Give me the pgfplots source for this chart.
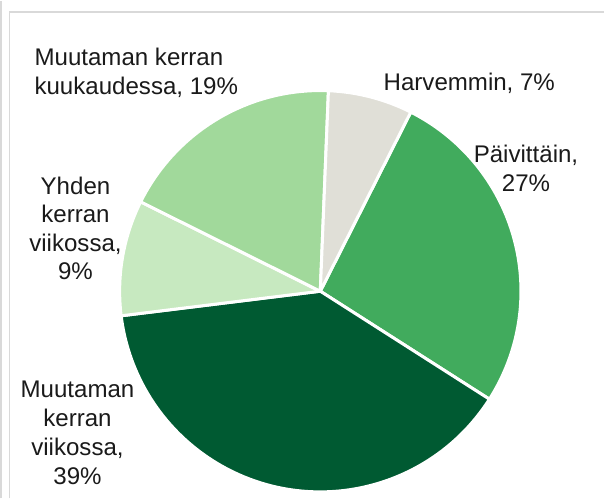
\documentclass[border=0pt]{standalone}
\usepackage{pgfplots}
\pgfplotsset{compat=1.18}
\usepackage{pgfplotstable}
\usepackage{fontspec}
\setmainfont{Liberation Sans}
\definecolor{cP}{HTML}{41AB5D}
\definecolor{cMV}{HTML}{005A32}
\definecolor{cYV}{HTML}{C7E9C0}
\definecolor{cMK}{HTML}{A1D99B}
\definecolor{cH}{HTML}{E0DFD7}
\definecolor{frame}{HTML}{D9D9D9}
\definecolor{txt}{HTML}{1A1A1A}
% shares (percent) in clockwise order, starting at 63.2 degrees
\pgfplotstableread{
name share
Paivittain 26.6
MuutamanViikossa 39.0
YhdenViikossa 9.3
MuutamanKuukaudessa 18.3
Harvemmin 6.8
}\pietable
\begin{document}
\begin{tikzpicture}
\pgfplotstablegetelem{0}{share}\of\pietable \let\va\pgfplotsretval
\pgfplotstablegetelem{1}{share}\of\pietable \let\vb\pgfplotsretval
\pgfplotstablegetelem{2}{share}\of\pietable \let\vc\pgfplotsretval
\pgfplotstablegetelem{3}{share}\of\pietable \let\vd\pgfplotsretval
\pgfplotstablegetelem{4}{share}\of\pietable \let\ve\pgfplotsretval
\pgfmathsetmacro\aA{63.2}
\pgfmathsetmacro\aB{\aA-\va*3.6}
\pgfmathsetmacro\aC{\aB-\vb*3.6}
\pgfmathsetmacro\aD{\aC-\vc*3.6}
\pgfmathsetmacro\aE{\aD-\vd*3.6}
\pgfmathsetmacro\aF{\aE-\ve*3.6}
\begin{axis}[
  width=605bp, height=496bp, scale only axis,
  xmin=0, xmax=605, ymin=0, ymax=496,
  hide axis, clip=false,
]
\def\cx{322}\def\cy{206.5}
\tikzset{slice/.style={draw=white, line width=3bp, line join=round, overlay}}
\fill[cP, slice]  (axis cs:\cx,\cy) -- ++(\aA:200bp) arc[start angle=\aA, end angle=\aB, radius=200bp] -- cycle;
\fill[cMV, slice] (axis cs:\cx,\cy) -- ++(\aB:200bp) arc[start angle=\aB, end angle=\aC, radius=200bp] -- cycle;
\fill[cYV, slice] (axis cs:\cx,\cy) -- ++(\aC:200bp) arc[start angle=\aC, end angle=\aD, radius=200bp] -- cycle;
\fill[cMK, slice] (axis cs:\cx,\cy) -- ++(\aD:200bp) arc[start angle=\aD, end angle=\aE, radius=200bp] -- cycle;
\fill[cH, slice]  (axis cs:\cx,\cy) -- ++(\aE:200bp) arc[start angle=\aE, end angle=\aF, radius=200bp] -- cycle;
% frame
\draw[frame, line width=1.5bp] (axis cs:3.5,0) -- (axis cs:3.5,496);
\draw[frame, line width=1.5bp] (axis cs:12,0) -- (axis cs:12,485) -- (axis cs:605,485);
% labels
\tikzset{lbl/.style={inner sep=0pt, text=txt, font=\fontsize{24bp}{28.5bp}\selectfont}}
\node[lbl, anchor=base west] at (axis cs:37,431) {Muutaman kerran};
\node[lbl, anchor=base west] at (axis cs:37,403) {kuukaudessa, 19\%};
\node[lbl, anchor=base] at (axis cs:470.5,407) {Harvemmin, 7\%};
\node[lbl, anchor=base] at (axis cs:527,335) {Päivittäin,};
\node[lbl, anchor=base] at (axis cs:527,306) {27\%};
\node[lbl, anchor=base] at (axis cs:78,303.3) {Yhden};
\node[lbl, anchor=base] at (axis cs:78,275) {kerran};
\node[lbl, anchor=base] at (axis cs:78,246.5) {viikossa,};
\node[lbl, anchor=base] at (axis cs:78,218) {9\%};
\node[lbl, anchor=base] at (axis cs:80,100.3) {Muutaman};
\node[lbl, anchor=base] at (axis cs:80,71.5) {kerran};
\node[lbl, anchor=base] at (axis cs:80,43) {viikossa,};
\node[lbl, anchor=base] at (axis cs:80,14.3) {39\%};
\end{axis}
\end{tikzpicture}
\end{document}
